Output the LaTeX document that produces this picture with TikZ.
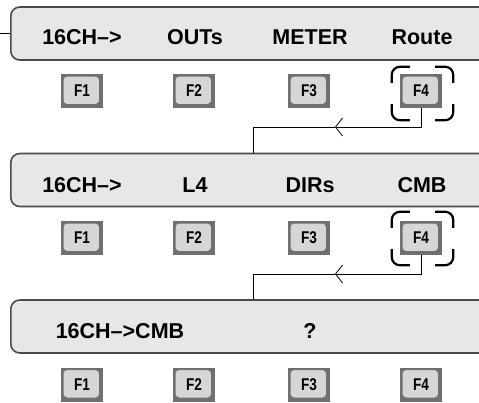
\documentclass[tikz,border=0pt]{standalone}
\usepackage{fontspec}
\setmainfont{Liberation Sans}
\newfontfamily\keyfont[FakeStretch=0.8]{Liberation Sans}
\usetikzlibrary{positioning, arrows.meta, calc}

\definecolor{lcdgray}{HTML}{E6E7E9}
\definecolor{rimgray}{HTML}{4A4A4A}
\definecolor{keygray}{HTML}{D6D6D6}
\definecolor{shadowgray}{HTML}{707070}

\begin{document}
\begin{tikzpicture}[
    x=1pt, y=-1pt,
    display/.style={
        rectangle,
        rounded corners=9pt,
        draw=rimgray,
        line width=1.6pt,
        fill=lcdgray,
        minimum width=510pt,
        minimum height=53pt,
        anchor=west
    },
    lcd/.style={
        font=\fontsize{21.5}{25}\selectfont\bfseries,
        anchor=base,
        inner sep=0pt
    },
    key/.style={
        rectangle,
        draw=shadowgray,
        fill=shadowgray,
        line width=0.6pt,
        minimum width=41pt,
        minimum height=33pt,
        inner sep=0pt,
        font=\keyfont\fontsize{17}{19}\selectfont\bfseries,
        path picture={
            \draw[fill=keygray, line width=1pt, rounded corners=4pt]
                ([shift={(1.5pt,-1.5pt)}]path picture bounding box.north west)
                rectangle ([shift={(-3pt,3pt)}]path picture bounding box.south east);
        }
    },
    select/.style={
        rectangle,
        minimum width=61pt,
        minimum height=53pt
    },
    bracket/.style={
        draw,
        line width=2.2pt,
        rounded corners=8pt
    },
    wire/.style={
        draw,
        line width=0.8pt
    },
    arrow/.style={
        wire,
        -{Straight Barb[length=7pt, width=18pt]}
    }
]

    \path[use as bounding box, clip] (0,0) rectangle (479,402);

    % --- Screen 1 ---
    \node[display] (disp1) at (10,33.5) {};
    \coordinate (lead) at (0,33.5);
    \draw[wire] (lead) -- (disp1.west);

    \node[lcd] (t1a) at (82,44.5) {16CH–>};
    \node[lcd] (t1b) at (195,44.5) {OUTs};
    \node[lcd] (t1c) at (310,44.5) {METER};
    \node[lcd] (t1d) at (422,44.5) {Route};

    \node[key] (k1a) at (82,91) {F1};
    \node[key] (k2a) at (194,91) {F2};
    \node[key] (k3a) at (309,91) {F3};
    \node[key] (k4a) at (421,91) {F4};

    % F4 pressed
    \node[select] (sel1) at (422.5,93.5) {};
    \draw[bracket] ([yshift=-16pt]sel1.north west) |- ([xshift=18pt]sel1.north west);
    \draw[bracket] ([xshift=-18pt]sel1.north east) -| ([yshift=-16pt]sel1.north east);
    \draw[bracket] ([yshift=16pt]sel1.south west) |- ([xshift=18pt]sel1.south west);
    \draw[bracket] ([xshift=-18pt]sel1.south east) -| ([yshift=16pt]sel1.south east);

    % --- Screen 2 ---
    \node[display] (disp2) at (10,180) {};

    \coordinate (tip1) at (335,127);
    \coordinate (bend1) at (253,127);
    \draw[arrow] (k4a.south) |- (tip1);
    \draw[wire] (tip1) -| (disp2.north -| bend1);

    \node[lcd] (t2a) at (82,192) {16CH–>};
    \node[lcd] (t2b) at (195,192) {L4};
    \node[lcd] (t2c) at (310,192) {DIRs};
    \node[lcd] (t2d) at (422,192) {CMB};

    \node[key] (k1b) at (82,238) {F1};
    \node[key] (k2b) at (194,238) {F2};
    \node[key] (k3b) at (309,238) {F3};
    \node[key] (k4b) at (421,238) {F4};

    % F4 pressed
    \node[select] (sel2) at (422.5,238.5) {};
    \draw[bracket] ([yshift=-16pt]sel2.north west) |- ([xshift=18pt]sel2.north west);
    \draw[bracket] ([xshift=-18pt]sel2.north east) -| ([yshift=-16pt]sel2.north east);
    \draw[bracket] ([yshift=16pt]sel2.south west) |- ([xshift=18pt]sel2.south west);
    \draw[bracket] ([xshift=-18pt]sel2.south east) -| ([yshift=16pt]sel2.south east);

    % --- Screen 3 ---
    \node[display] (disp3) at (10,326.5) {};

    \coordinate (tip2) at (335,274);
    \coordinate (bend2) at (253,274);
    \draw[arrow] (k4b.south) |- (tip2);
    \draw[wire] (tip2) -| (disp3.north -| bend2);

    \node[lcd] (t3a) at (120,338) {16CH–>CMB};
    \node[lcd] (t3b) at (310,338) {?};

    \node[key] (k1c) at (82,384.5) {F1};
    \node[key] (k2c) at (194,384.5) {F2};
    \node[key] (k3c) at (309,384.5) {F3};
    \node[key] (k4c) at (421,384.5) {F4};

\end{tikzpicture}
\end{document}
